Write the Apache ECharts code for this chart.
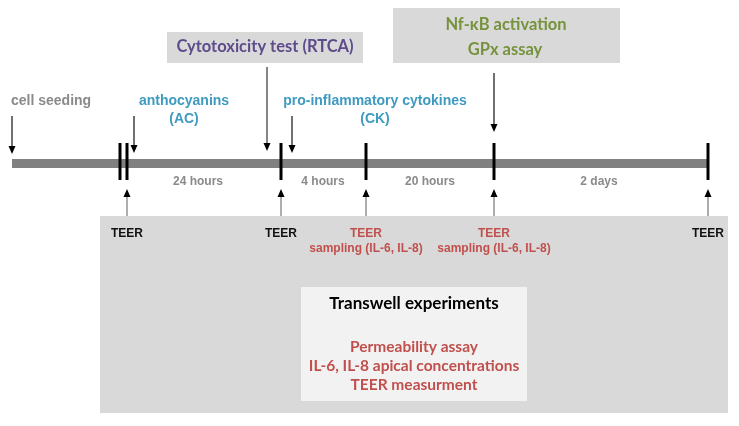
<!DOCTYPE html>
<html><head><meta charset="utf-8">
<script src="https://cdn.jsdelivr.net/npm/echarts@6/dist/echarts.min.js"></script>
<style>html,body{margin:0;padding:0;background:#fff}#c{width:739px;height:426px}</style>
</head><body><div id="c"></div>
<script>
// ---- data: events placed along the timeline axis ----
const timelineRange = [12, 708];
const tickPositions = [120, 127, 281, 366, 494, 708];
const treatmentLabels = ['cell seeding', 'anthocyanins\n(AC)', 'Cytotoxicity test (RTCA)', 'pro-inflammatory cytokines\n(CK)', 'Nf-κB activation', 'GPx assay'];
const treatmentArrowPositions = [12, 134, 267, 292, 494];
const durationLabels = ['24 hours', '4 hours', '20 hours', '2 days'];
const durationPositions = [198, 323, 430, 599];
const teerPositions = [127, 281, 366, 494, 708];
const teerLabels = ['TEER', 'TEER', 'TEER\nsampling (IL-6, IL-8)', 'TEER\nsampling (IL-6, IL-8)', 'TEER'];
const transwellTitle = 'Transwell experiments';
const transwellItems = ['Permeability assay', 'IL-6, IL-8 apical concentrations', 'TEER measurment'];

// ---- layout / style ----
const W = 739, H = 426;
const L = {
  lineY: 163.5,
  tickTop: 143, tickBottom: 180,
  arrowTops: [116, 116, 67, 116, 73],
  arrowTips: [154, 153, 151, 153, 132],
  upTip: 189, upBottom: 216,
  durY: 182,
  teerY: 234,
  boxes: [
    [100, 216, 728, 413, '#d9d9d9'],
    [301, 287, 527, 401, '#f2f2f2'],
    [167, 32, 363, 63, '#d9d9d9'],
    [393, 8, 620, 63, '#d9d9d9']
  ],
  treatText: [
    [11, 101, 'left', '#8a8a8a', 'arial'],
    [184, 110, 'center', '#3f9ac0', 'arial'],
    [265, 47, 'center', '#5d4b8a', 'calibri'],
    [375, 110, 'center', '#3f9ac0', 'arial'],
    [506, 25, 'center', '#76923c', 'calibri'],
    [505, 50, 'center', '#76923c', 'calibri']
  ],
  teerColors: ['#111', '#111', '#c0504d', '#c0504d', '#111'],
  transwell: [414, 304],
  transwellItemsY: [347, 366, 385]
};
const ARIAL = '"Liberation Sans", Arial, sans-serif';
const CAL = 'Lato, "Open Sans", sans-serif';

function textEl(api, x, y, text, opt) {
  const p = api.coord([x, y]);
  return {
    type: 'text',
    x: p[0], y: p[1],
    style: {
      text: text,
      textAlign: opt.align || 'center',
      textVerticalAlign: 'middle',
      fill: opt.color,
      font: opt.font,
      lineHeight: opt.lineHeight || 18
    }
  };
}

const chart = echarts.init(document.getElementById('c'), null, {renderer: 'canvas'});

const option = {
  animation: false,
  backgroundColor: '#fff',
  grid: {left: 0, right: 0, top: 0, bottom: 0},
  xAxis: {type: 'value', min: 0, max: W, show: false},
  yAxis: {type: 'value', min: 0, max: H, inverse: true, show: false},
  series: [
    // boxes
    {
      type: 'custom', z: 1,
      data: L.boxes.map((b, i) => [b[0], b[1], b[2], b[3], i]),
      renderItem: (params, api) => {
        const b = L.boxes[api.value(4)];
        const p0 = api.coord([api.value(0), api.value(1)]);
        const p1 = api.coord([api.value(2), api.value(3)]);
        return {type: 'rect', shape: {x: p0[0], y: p0[1], width: p1[0] - p0[0], height: p1[1] - p0[1]}, style: {fill: b[4]}};
      }
    },
    // timeline bar
    {
      type: 'line', z: 2, symbol: 'none', silent: true,
      data: [[timelineRange[0], L.lineY], [timelineRange[1], L.lineY]],
      lineStyle: {color: '#808080', width: 9, cap: 'butt'}
    },
    // ticks
    {
      type: 'custom', z: 3,
      data: tickPositions.map(x => [x]),
      renderItem: (params, api) => {
        const a = api.coord([api.value(0), L.tickTop]);
        const b = api.coord([api.value(0), L.tickBottom]);
        return {type: 'line', shape: {x1: a[0], y1: a[1], x2: b[0], y2: b[1]}, style: {stroke: '#000', lineWidth: 3}};
      }
    },
    // down arrows
    {
      type: 'custom', z: 3,
      data: treatmentArrowPositions.map((x, i) => [x, i]),
      renderItem: (params, api) => {
        const i = api.value(1);
        const top = api.coord([api.value(0), L.arrowTops[i]]);
        const tip = api.coord([api.value(0), L.arrowTips[i]]);
        const col = i === 2 ? '#333' : '#111';
        return {type: 'group', children: [
          {type: 'line', shape: {x1: top[0], y1: top[1], x2: tip[0], y2: tip[1] - 5}, style: {stroke: col, lineWidth: 1.2}},
          {type: 'polygon', shape: {points: [[tip[0] - 3.5, tip[1] - 8], [tip[0] + 3.5, tip[1] - 8], [tip[0], tip[1]]]}, style: {fill: '#000'}}
        ]};
      }
    },
    // up arrows
    {
      type: 'custom', z: 3,
      data: teerPositions.map(x => [x]),
      renderItem: (params, api) => {
        const tip = api.coord([api.value(0), L.upTip]);
        const bot = api.coord([api.value(0), L.upBottom]);
        return {type: 'group', children: [
          {type: 'line', shape: {x1: bot[0], y1: bot[1], x2: tip[0], y2: tip[1] + 5}, style: {stroke: '#777', lineWidth: 1.2}},
          {type: 'polygon', shape: {points: [[tip[0] - 3.5, tip[1] + 8], [tip[0] + 3.5, tip[1] + 8], [tip[0], tip[1]]]}, style: {fill: '#000'}}
        ]};
      }
    },
    // treatment labels
    {
      type: 'custom', z: 4,
      data: treatmentLabels.map((t, i) => [L.treatText[i][0], L.treatText[i][1], i]),
      renderItem: (params, api) => {
        const i = api.value(2);
        const s = L.treatText[i];
        const font = s[4] === 'arial' ? 'bold 14px ' + ARIAL : 'bold 16.5px ' + CAL;
        return textEl(api, api.value(0), api.value(1), treatmentLabels[i], {align: s[2], color: s[3], font: font, lineHeight: 18});
      }
    },
    // durations
    {
      type: 'custom', z: 4,
      data: durationPositions.map((x, i) => [x, i]),
      renderItem: (params, api) => textEl(api, api.value(0), L.durY, durationLabels[api.value(1)], {color: '#8a8a8a', font: 'bold 12px ' + ARIAL})
    },
    // TEER labels
    {
      type: 'custom', z: 4,
      data: teerPositions.map((x, i) => [x, i]),
      renderItem: (params, api) => {
        const i = api.value(1);
        const txt = teerLabels[i];
        const y = txt.indexOf('\n') >= 0 ? L.teerY + 7.5 : L.teerY;
        return textEl(api, api.value(0), y, txt, {color: L.teerColors[i], font: 'bold 12px ' + ARIAL, lineHeight: 15});
      }
    },
    // transwell text
    {
      type: 'custom', z: 4,
      data: [[L.transwell[0], L.transwell[1], -1]].concat(transwellItems.map((t, i) => [L.transwell[0], L.transwellItemsY[i], i])),
      renderItem: (params, api) => {
        const i = api.value(2);
        if (i < 0) return textEl(api, api.value(0), api.value(1), transwellTitle, {color: '#000', font: 'bold 17px ' + CAL});
        return textEl(api, api.value(0), api.value(1), transwellItems[i], {color: '#c0504d', font: 'bold 15.5px ' + CAL});
      }
    }
  ]
};
chart.setOption(option);
</script>
</body></html>
